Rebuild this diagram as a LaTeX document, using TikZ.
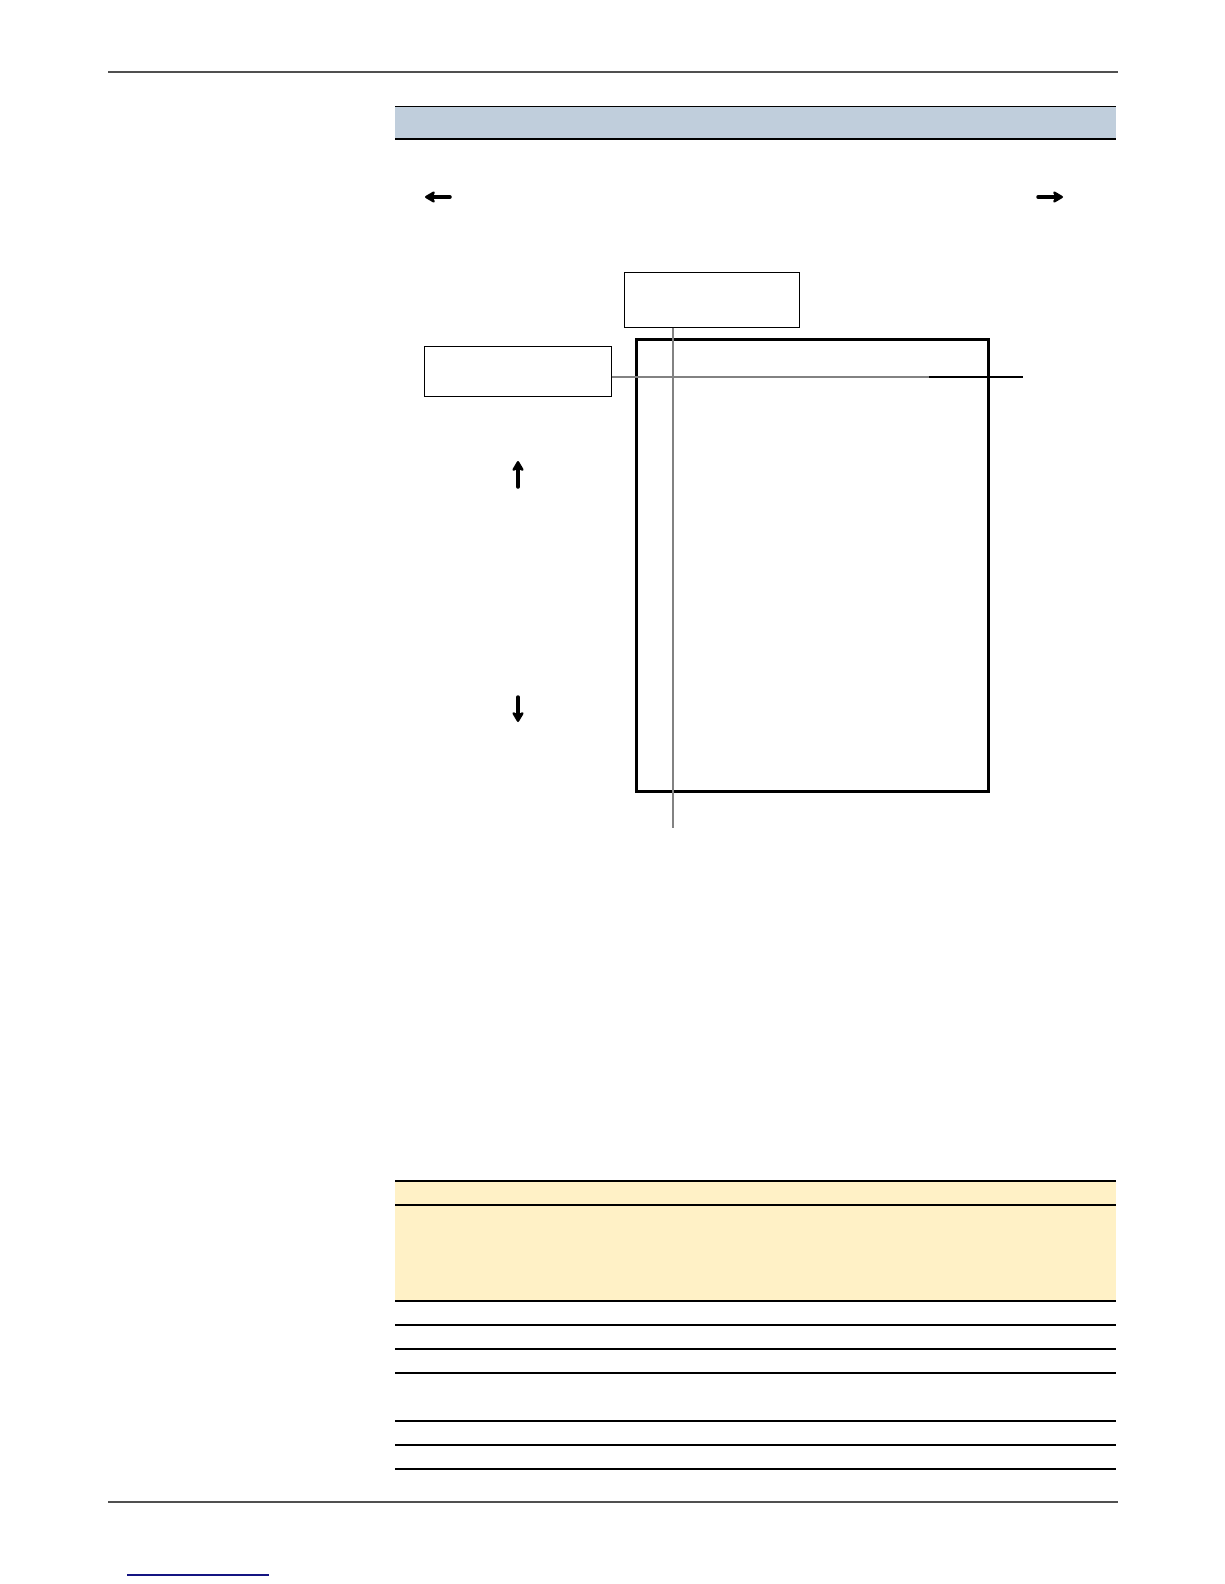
\documentclass[tikz,border=0pt]{standalone}
\usetikzlibrary{positioning,arrows.meta,calc}
\definecolor{hdrblue}{RGB}{192,206,220}
\definecolor{notecream}{RGB}{255,241,198}
\definecolor{rulegray}{RGB}{80,80,80}
\definecolor{guidegray}{RGB}{130,130,130}
\definecolor{linkblue}{RGB}{20,20,130}
\tikzset{
    labelbox/.style={draw, line width=1pt, inner sep=0pt},
    movearrow/.style={-{Stealth[length=12pt,width=14pt,inset=3pt,round]}, line width=3.5pt, line cap=round},
    tablerule/.style={line width=1.5pt}
}

\begin{document}
\begin{tikzpicture}[x=1pt,y=-1pt]
    \useasboundingbox (0,0) rectangle (1224,1584);
    % page rules
    \draw[rulegray, line width=2pt] (108,72) -- (1118,72);
    \draw[rulegray, line width=2.5pt] (108,1502) -- (1118,1502);
    \draw[linkblue, line width=1.2pt] (127,1575) -- (269,1575);

    % header band
    \fill[hdrblue] (395,107) rectangle (1116,139);
    \draw[line width=1pt] (395,107) -- (1116,107);
    \draw[line width=1.2pt] (395,139) -- (1116,139);

    % sideways arrows
    \draw[movearrow] (450,197) -- (425,197);
    \draw[movearrow] (1038,197) -- (1063,197);

    % frame and boxes
    \node[labelbox, line width=3pt, minimum width=352pt, minimum height=452pt] (frame) at (812,565) {};
    \node[labelbox, minimum width=175pt, minimum height=55pt] (topbox) at (711.5,299.5) {};
    \node[labelbox, minimum width=187pt, minimum height=50pt] (sidebox) at (517.5,371) {};

    \coordinate (vfoot) at (673,828);
    \coordinate (hsplit) at (929,377);
    \coordinate (hend) at (1023,377);
    \draw[guidegray, line width=1.5pt] (topbox.south -| vfoot) -- (vfoot);
    \draw[guidegray, line width=1.5pt] (sidebox.east |- hsplit) -- (hsplit);
    \draw[line width=1.2pt] (hsplit) -- (hend);

    % up / down arrows
    \draw[movearrow] (518,487) -- (518,461);
    \draw[movearrow] (518,697) -- (518,722);

    % table
    \fill[notecream] (395,1181) rectangle (1116,1301);
    \foreach \y in {1181,1205,1301,1325,1349,1373,1421,1445,1469} {
        \draw[tablerule] (395,\y) -- (1116,\y);
    }
\end{tikzpicture}
\end{document}
